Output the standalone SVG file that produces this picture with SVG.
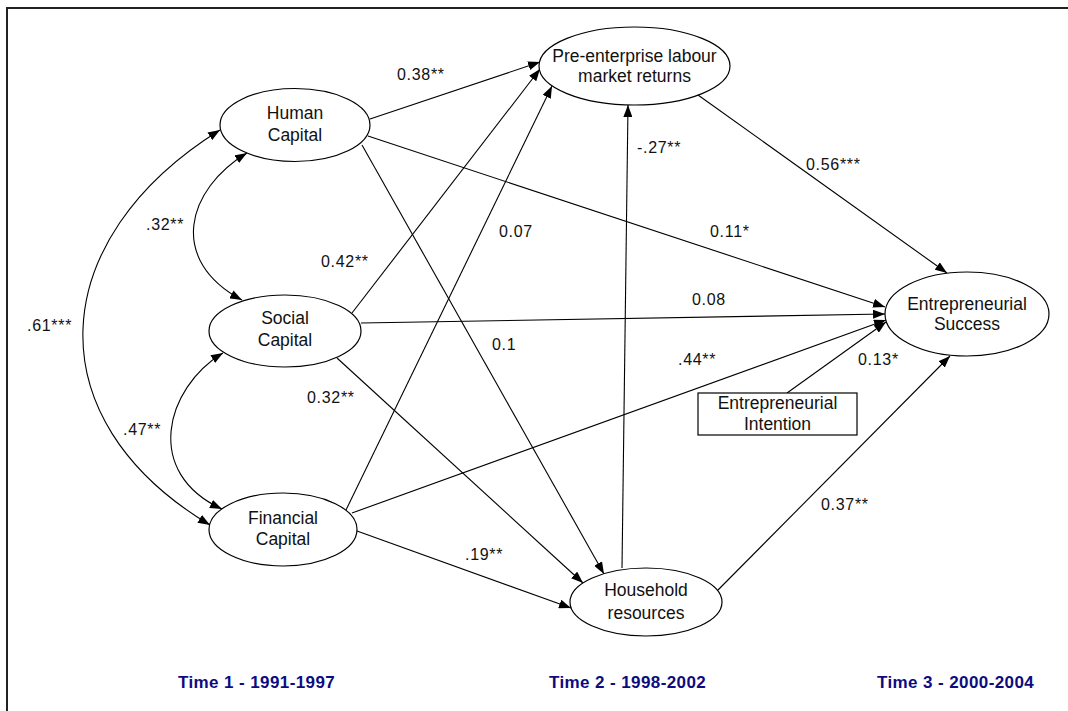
<svg xmlns="http://www.w3.org/2000/svg" width="1068" height="711" viewBox="0 0 1068 711">
<style>
.n{fill:#fff;stroke:#000;stroke-width:1.2}
.t{font-family:"Liberation Sans",Arial,sans-serif;font-size:17.5px;fill:#111;text-anchor:middle}
.l{font-family:"Liberation Sans",Arial,sans-serif;font-size:16px;letter-spacing:0.7px;fill:#111}
.tm{font-family:"Liberation Sans",Arial,sans-serif;font-size:17px;font-weight:bold;letter-spacing:0.4px;fill:#0c0c80}
.c{fill:none;stroke:#000;stroke-width:1.1;marker-end:url(#ah)}
.d{fill:none;stroke:#000;stroke-width:1.1;marker-start:url(#ah);marker-end:url(#ah)}
</style>
<defs>
<marker id="ah" viewBox="0 0 12 9" refX="12" refY="4.5" markerWidth="12" markerHeight="9" markerUnits="userSpaceOnUse" orient="auto-start-reverse">
<path d="M0,0 L12,4.5 L0,9 z" fill="#000"/>
</marker>
</defs>
<rect width="1068" height="711" fill="#fff"/>
<path d="M7,711 V8 H1068" fill="none" stroke="#222" stroke-width="2"/>

<g id="connectors">
<path class="c" d="M370,119 L540,62"/>
<path class="c" d="M368,136 L885,307"/>
<path class="c" d="M362,145 L604,574"/>
<path class="c" d="M352,313 L540,69"/>
<path class="c" d="M346,510 L552,86"/>
<path class="c" d="M361,323 L885,314"/>
<path class="c" d="M337,358 L583,583"/>
<path class="c" d="M352,513 L886,320"/>
<path class="c" d="M357,531 L571,608"/>
<path class="c" d="M622,568 L628,105"/>
<path class="c" d="M698,95 L947,273"/>
<path class="c" d="M718,590 L950,356"/>
<path class="c" d="M787,393 L886,322"/>
<path class="d" d="M247,153 C187,189 167,260 242,300"/>
<path class="d" d="M223,353 C165,388 143,473 222,509"/>
<path class="d" d="M220,130 C45,239 33,419 210,525"/>
</g>

<g id="labels">
<text class="l" x="397" y="80">0.38**</text>
<text class="l" x="806" y="170">0.56***</text>
<text class="l" x="637" y="153">-.27**</text>
<text class="l" x="710" y="237">0.11*</text>
<text class="l" x="146" y="230">.32**</text>
<text class="l" x="499" y="237">0.07</text>
<text class="l" x="321" y="267">0.42**</text>
<text class="l" x="692" y="305">0.08</text>
<text class="l" x="27" y="331">.61***</text>
<text class="l" x="492" y="350">0.1</text>
<text class="l" x="678" y="365">.44**</text>
<text class="l" x="858" y="365">0.13*</text>
<text class="l" x="307" y="403">0.32**</text>
<text class="l" x="123" y="435">.47**</text>
<text class="l" x="821" y="510">0.37**</text>
<text class="l" x="465" y="560">.19**</text>
</g>

<g id="human">
<ellipse class="n" cx="295" cy="125" rx="75" ry="36.5"/>
<text class="t" x="295" y="119">Human</text>
<text class="t" x="295" y="141">Capital</text>
</g>
<g id="pre">
<ellipse class="n" cx="634.5" cy="66" rx="95.5" ry="39"/>
<text class="t" x="634.5" y="62">Pre-enterprise labour</text>
<text class="t" x="634.5" y="82">market returns</text>
</g>
<g id="social">
<ellipse class="n" cx="285" cy="331" rx="76" ry="36"/>
<text class="t" x="285" y="324">Social</text>
<text class="t" x="285" y="346">Capital</text>
</g>
<g id="financial">
<ellipse class="n" cx="283" cy="529.5" rx="74" ry="36.5"/>
<text class="t" x="283" y="524">Financial</text>
<text class="t" x="283" y="545">Capital</text>
</g>
<g id="household">
<ellipse class="n" cx="646" cy="602" rx="76" ry="34"/>
<text class="t" x="646" y="596">Household</text>
<text class="t" x="646" y="619">resources</text>
</g>
<g id="success">
<ellipse class="n" cx="967" cy="314" rx="82" ry="42"/>
<text class="t" x="967" y="310">Entrepreneurial</text>
<text class="t" x="967" y="330">Success</text>
</g>
<g id="intention">
<rect class="n" x="698" y="393" width="159" height="42"/>
<text class="t" x="777.5" y="409">Entrepreneurial</text>
<text class="t" x="777.5" y="430">Intention</text>
</g>

<g id="times">
<text class="tm" x="178" y="688">Time 1 - 1991-1997</text>
<text class="tm" x="549" y="688">Time 2 - 1998-2002</text>
<text class="tm" x="877" y="688">Time 3 - 2000-2004</text>
</g>
</svg>
